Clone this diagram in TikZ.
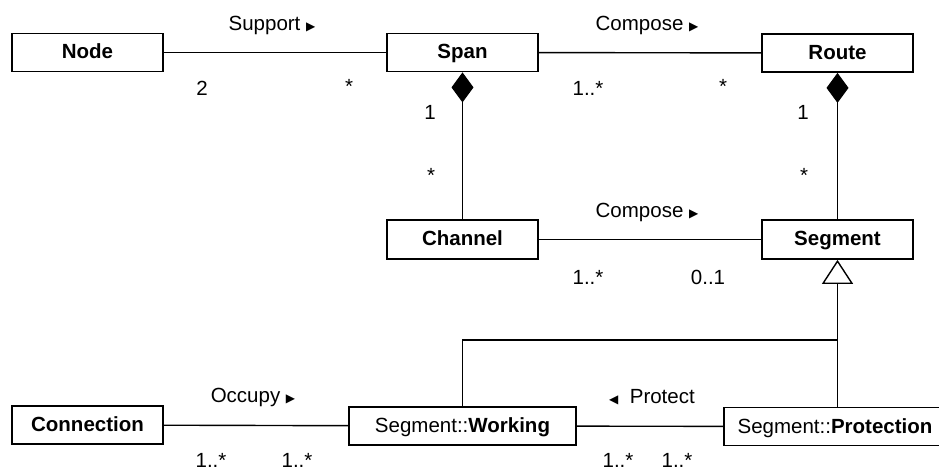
\documentclass[tikz,border=0pt]{standalone}
\usepackage{fontspec}
\setmainfont{Liberation Sans}
\newfontfamily\symfont{DejaVu Sans}
\usetikzlibrary{arrows.meta}
\begin{document}
\begin{tikzpicture}[x=1pt,y=-1pt,
  cls/.style={draw,line width=1.8pt,minimum width=151pt,minimum height=38pt,inner sep=0pt,text height=14pt,text depth=1pt,font=\fontsize{20.5}{24}\selectfont\bfseries},
  lbl/.style={inner sep=0pt,font=\fontsize{20.5}{24}\selectfont},
  conn/.style={line width=1.4pt},
  comp/.style={conn,-{Diamond[fill=black,width=22pt,length=30pt,line width=1pt]}},
  gen/.style={conn,-{Triangle[open,fill=white,width=31pt,length=24pt,line width=1.4pt]}}]
\useasboundingbox (0,0) rectangle (939,470);
\newcommand{\rtri}{{\symfont\fontsize{12}{12}\selectfont ▶}}
\newcommand{\ltri}{{\symfont\fontsize{12}{12}\selectfont ◀}}
% classes
\node[cls] (node) at (87.5,52.5) {Node};
\node[cls] (span) at (462.5,52.5) {Span};
\node[cls] (route) at (837.5,53) {Route};
\node[cls,minimum height=39pt] (channel) at (462.5,239.5) {Channel};
\node[cls,minimum height=39pt] (segment) at (837.5,239.5) {Segment};
\node[cls] (connection) at (87.5,425) {Connection};
\node[cls,minimum width=227pt,font=\fontsize{20.5}{24}\selectfont] (working) at (462.5,426) {Segment::\textbf{Working}};
\node[cls,minimum width=222pt,font=\fontsize{20.5}{24}\selectfont] (protection) at (835,426.5) {Segment::\textbf{Protection}};
% associations
\draw[conn] (node) -- (span);
\draw[conn] (span) -- (route);
\draw[conn] (channel) -- (segment);
\draw[conn] (connection) -- (working);
\draw[conn] (working) -- (protection);
% compositions
\draw[comp] (channel.north) -- (span.south);
\draw[comp] (segment.north) -- (route.south);
% generalization
\coordinate (jn) at (837.5,340);
\draw[conn] (working.north) |- (jn);
\draw[gen] (jn |- protection.north) -- (segment.south);
% association labels
\node[lbl] (lsupport) at (272,25) {Support \rtri};
\node[lbl] (lcompose1) at (647,25) {Compose \rtri};
\node[lbl] (lcompose2) at (647,212) {Compose \rtri};
\node[lbl] (loccupy) at (253,397) {Occupy \rtri};
\node[lbl] (lprotect) at (652,397) {\ltri\ \ Protect};
% multiplicities
\node[lbl] (m1) at (202,88) {2};
\node[lbl] (m2) at (349,86) {*};
\node[lbl] (m3) at (588,88) {1..*};
\node[lbl] (m4) at (723,86) {*};
\node[lbl] (m5) at (430,112) {1};
\node[lbl] (m6) at (431,175) {*};
\node[lbl] (m7) at (803,112) {1};
\node[lbl] (m8) at (804,175) {*};
\node[lbl] (m9) at (588,277) {1..*};
\node[lbl] (m10) at (708,277) {0..1};
\node[lbl] (m11) at (211,460) {1..*};
\node[lbl] (m12) at (297,460) {1..*};
\node[lbl] (m13) at (618,460) {1..*};
\node[lbl] (m14) at (677,460) {1..*};
\end{tikzpicture}
\end{document}
